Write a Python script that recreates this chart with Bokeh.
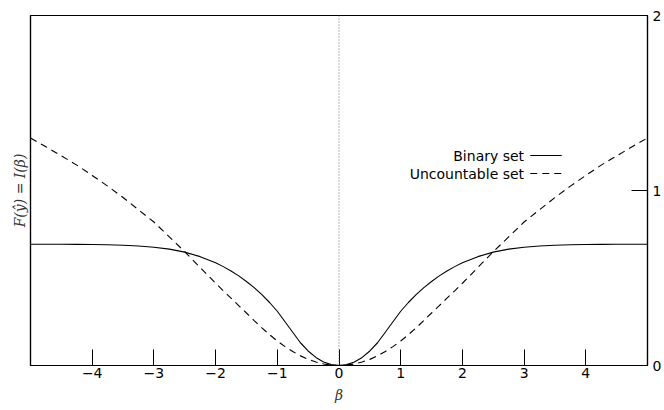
from bokeh.plotting import figure
from bokeh.models import Range1d, LinearAxis, FixedTicker, Span, Label
from bokeh.embed import file_html
from bokeh.resources import INLINE

# ---- data ----
beta = [-5.0, -4.75, -4.5, -4.25, -4.0, -3.75, -3.5, -3.25, -3.0, -2.75, -2.5, -2.25,
        -2.0, -1.875, -1.75, -1.625, -1.5, -1.375, -1.25, -1.125, -1.0, -0.875, -0.75,
        -0.625, -0.5, -0.375, -0.25, -0.125, 0.0,
        0.125, 0.25, 0.375, 0.5, 0.625, 0.75, 0.875, 1.0, 1.125, 1.25, 1.375, 1.5,
        1.625, 1.75, 1.875, 2.0,
        2.25, 2.5, 2.75, 3.0, 3.25, 3.5, 3.75, 4.0, 4.25, 4.5, 4.75, 5.0]
binary_set = [0.693, 0.693, 0.693, 0.692, 0.691, 0.69, 0.687, 0.683, 0.676, 0.665, 0.648, 0.622,
              0.587, 0.565, 0.54, 0.512, 0.48, 0.445, 0.405, 0.36, 0.31, 0.25, 0.19,
              0.13, 0.083, 0.046, 0.02, 0.005, 0.0,
              0.005, 0.02, 0.046, 0.083, 0.13, 0.19, 0.25, 0.31, 0.36, 0.405, 0.445, 0.48,
              0.512, 0.54, 0.565, 0.587,
              0.622, 0.648, 0.665, 0.676, 0.683, 0.687, 0.69, 0.691, 0.692, 0.693, 0.693, 0.693]
uncountable_set = [1.30, 1.25, 1.198, 1.145, 1.086, 1.025, 0.96, 0.89, 0.82, 0.735, 0.65, 0.56,
                   0.47, 0.427, 0.385, 0.342, 0.30, 0.257, 0.215, 0.176, 0.14, 0.108, 0.08,
                   0.055, 0.035, 0.02, 0.009, 0.002, 0.0,
                   0.002, 0.009, 0.02, 0.035, 0.055, 0.08, 0.108, 0.14, 0.176, 0.215, 0.257, 0.30,
                   0.342, 0.385, 0.427, 0.47,
                   0.56, 0.65, 0.735, 0.82, 0.89, 0.96, 1.025, 1.086, 1.145, 1.198, 1.25, 1.30]
x_ticks = [-4, -3, -2, -1, 0, 1, 2, 3, 4]
x_tick_labels = ["\u22124", "\u22123", "\u22122", "\u22121", "0", "1", "2", "3", "4"]
y_ticks = [0, 1, 2]
y_tick_labels = ["0", "1", "2"]
series_names = ["Binary set", "Uncountable set"]

FONT = "DejaVu Sans"
FS = "14px"

p = figure(width=664, height=410, output_backend="svg", toolbar_location=None,
           x_range=Range1d(-5, 5), y_range=Range1d(0, 2),
           x_axis_location=None, y_axis_location=None)
p.min_border_left = 30
p.min_border_right = 15
p.min_border_top = 15
p.min_border_bottom = 45
p.grid.visible = False
p.outline_line_color = "black"
p.outline_line_width = 1.2
p.background_fill_color = "white"
p.border_fill_color = "white"

# bottom axis
xb = LinearAxis(ticker=FixedTicker(ticks=x_ticks),
                major_label_overrides={t: l for t, l in zip(x_ticks, x_tick_labels)})
xb.major_tick_in = 16
xb.major_tick_out = 0
xb.minor_tick_in = 0
xb.minor_tick_out = 0
xb.major_label_standoff = 2
xb.major_label_text_font = FONT
xb.major_label_text_font_size = FS
xb.major_label_text_color = "black"
xb.axis_line_color = "black"
xb.axis_line_width = 1.2
xb.major_tick_line_color = "black"
xb.axis_label = "\u03b2"
xb.axis_label_text_font = "DejaVu Serif"
xb.axis_label_text_font_style = "italic"
xb.axis_label_text_font_size = FS
xb.axis_label_text_color = "#333333"
xb.axis_label_standoff = 6
p.add_layout(xb, "below")

# right axis
yr = LinearAxis(ticker=FixedTicker(ticks=y_ticks),
                major_label_overrides={t: l for t, l in zip(y_ticks, y_tick_labels)})
yr.major_tick_in = 16
yr.major_tick_out = 0
yr.minor_tick_in = 0
yr.minor_tick_out = 0
yr.major_label_standoff = 5
yr.major_label_text_font = FONT
yr.major_label_text_font_size = FS
yr.major_label_text_color = "black"
yr.axis_line_color = "black"
yr.axis_line_width = 1.2
yr.major_tick_line_color = "black"
p.add_layout(yr, "right")

# left axis (label only)
yl = LinearAxis(ticker=FixedTicker(ticks=[]))
yl.major_tick_in = 0
yl.major_tick_out = 0
yl.minor_tick_in = 0
yl.minor_tick_out = 0
yl.axis_line_color = "black"
yl.axis_line_width = 1.2
yl.axis_label = "F(\u0177) = I(\u03b2)"
yl.axis_label_text_font = "DejaVu Serif"
yl.axis_label_text_font_style = "italic"
yl.axis_label_text_font_size = FS
yl.axis_label_text_color = "#333333"
yl.axis_label_standoff = 3
p.add_layout(yl, "left")

# dotted vertical at 0
p.add_layout(Span(location=0, dimension="height", line_color="#666666",
                  line_dash="1 2", line_width=1))

p.line(beta, binary_set, line_color="black", line_width=1.1)
p.line(beta, uncountable_set, line_color="black", line_width=1.1, line_dash="7 5")

# legend (label left of line sample)
leg_text_x = 3.0
leg_line_x = [3.10, 3.61]
leg_y = [1.20, 1.097]
dashes = [None, "7 5"]
for name, yy, dsh in zip(series_names, leg_y, dashes):
    p.add_layout(Label(x=leg_text_x, y=yy, text=name, text_align="right",
                       text_baseline="middle", text_font=FONT, text_font_size=FS,
                       text_color="black"))
    kw = dict(line_color="black", line_width=1.1)
    if dsh:
        kw["line_dash"] = dsh
    p.line(leg_line_x, [yy, yy], **kw)

open("out.html", "w").write(file_html(p, INLINE))
